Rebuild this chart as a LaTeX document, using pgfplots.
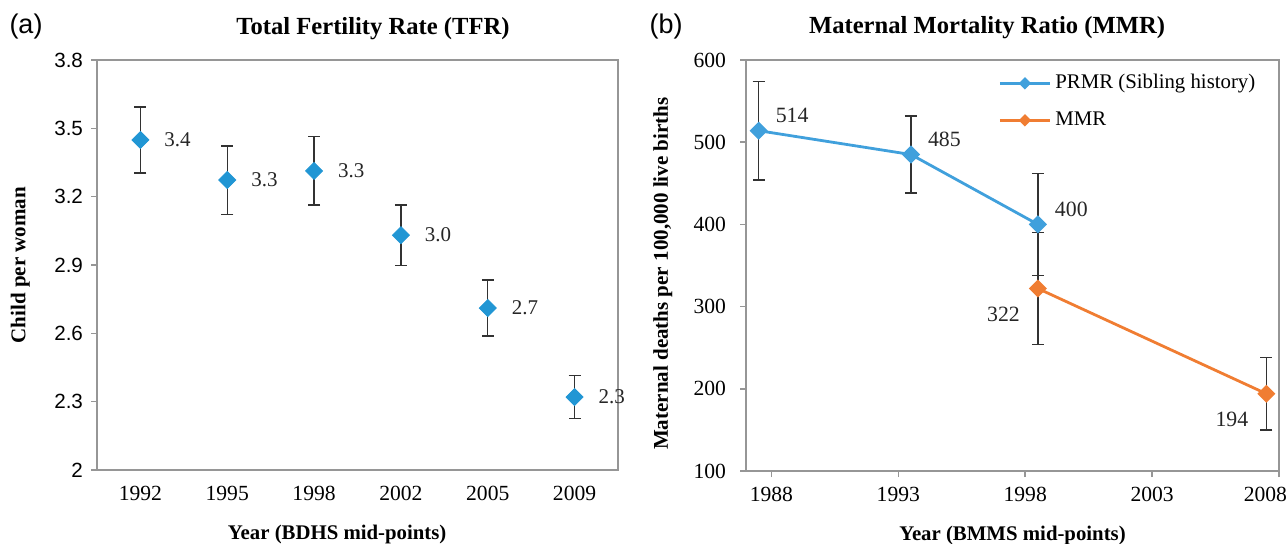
\documentclass[border=0pt]{standalone}
\usepackage{fontspec}
\setmainfont{Liberation Serif}
\newfontfamily\arial{Liberation Sans}
\usepackage{pgfplots}
\pgfplotsset{compat=1.18}

\definecolor{tfrblue}{RGB}{33,150,212}
\definecolor{prmrblue}{RGB}{64,160,220}
\definecolor{mmrorange}{RGB}{240,125,50}
\definecolor{framegray}{RGB}{150,150,150}
\definecolor{barcol}{RGB}{50,50,50}

\pgfplotsset{
  panel/.style={
    scale only axis,
    axis line style={framegray, line width=0.8pt},
    tick style={framegray, line width=0.8pt},
    tick align=outside,
    xtick pos=bottom, ytick pos=left,
    major tick length=3pt, minor tick length=3pt,
    every axis x label/.style={font=\bfseries\fontsize{10.4}{12}\selectfont},
    every axis y label/.style={font=\bfseries\fontsize{10.5}{12}\selectfont, rotate=90, anchor=center},
  },
  ebars/.style={
    error bars/.cd, y dir=both, y explicit,
    error bar style={barcol, line width=0.7pt, solid},
    error mark options={rotate=90, mark size=3pt, barcol, line width=0.7pt, solid},
  },
}

\begin{document}
\begin{tikzpicture}
\useasboundingbox (0pt,0pt) rectangle (644pt,-272pt);

% (a) TFR
\begin{axis}[panel,
  at={(48.5pt,-235pt)}, anchor=south west,
  width=260.5pt, height=205pt,
  xmin=-0.5, xmax=5.5, ymin=2, ymax=3.8,
  xtick={0,...,5},
  xticklabels={1992,1995,1998,2002,2005,2009},
  minor xtick={-0.5,0.5,...,5.5},
  xtick style={draw=none},
  minor x tick style={framegray, line width=0.8pt},
  ytick={2,2.3,2.6,2.9,3.2,3.5,3.8},
  yticklabels={2,2.3,2.6,2.9,3.2,3.5,3.8},
  xticklabel style={font=\fontsize{10.8}{12}\selectfont, yshift=-1.5pt},
  yticklabel style={font=\arial\fontsize{10.3}{12}\selectfont, xshift=-0.5pt},
  xlabel={Year (BDHS mid-points)},
  ylabel={Child per woman},
  xlabel style={at={(axis description cs:0.461,0)}, anchor=center, yshift=-32pt},
  ylabel style={at={(axis description cs:-0.147,0.5)}},
]
\addplot[only marks, mark=square*, mark size=3pt,
  mark options={rotate=45, fill=tfrblue, draw=tfrblue},
  point meta=explicit symbolic,
  nodes near coords={\pgfplotspointmeta},
  every node near coord/.append style={anchor=west, xshift=8.5pt,
    font=\fontsize{10.5}{12}\selectfont, text=black!85},
  ebars]
  table[x=x, y=y, y error=e, meta=l] {
x y e l
0 3.449 0.145 3.4
1 3.273 0.150 3.3
2 3.313 0.150 3.3
3 3.031 0.132 3.0
4 2.711 0.123 2.7
5 2.320 0.095 2.3
};
\end{axis}

% (b) MMR
\begin{axis}[panel,
  at={(373pt,-235.5pt)}, anchor=south west,
  width=266.5pt, height=205.5pt,
  xmin=1987, xmax=2008, ymin=100, ymax=600,
  xtick={1988,1993,1998,2003,2008},
  xticklabels={1988,1993,1998,2003,\makebox[0pt][r]{2008\kern-4pt}},
  ytick={100,200,300,400,500,600},
  yticklabels={100,200,300,400,500,600},
  xticklabel style={font=\fontsize{10.8}{12}\selectfont, yshift=-1.5pt},
  yticklabel style={font=\fontsize{10.8}{12}\selectfont, xshift=-3.5pt},
  xlabel={Year (BMMS mid-points)},
  ylabel={Maternal deaths per 100,000 live births},
  xlabel style={at={(axis description cs:0.5,0)}, anchor=center, yshift=-32pt},
  ylabel style={at={(axis description cs:-0.156,0.48)}},
  legend style={draw=none, fill=none, at={(0.975,0.985)}, anchor=north east,
    font=\fontsize{10.4}{12}\selectfont, row sep=6pt, legend cell align=left},
  legend image code/.code={
    \draw[mark repeat=2, mark phase=2, #1, mark size=1.5pt]
      plot coordinates {(0pt,0pt) (12.5pt,0pt) (25pt,0pt)};},
]
\addplot[prmrblue, line width=1.4pt, mark=square*, mark size=2.5pt,
  mark options={rotate=45, fill=prmrblue, draw=prmrblue, solid},
  point meta=explicit symbolic,
  nodes near coords={\pgfplotspointmeta},
  every node near coord/.append style={anchor=south west, xshift=4.5pt, yshift=0pt,
    font=\fontsize{10.9}{12}\selectfont, text=black!85},
  ebars]
  table[x=x, y=y, y error=e, meta=l] {
x y e l
1987.5 514 60 514
1993.5 485 47 485
1998.5 400 62 400
};
\addlegendentry{PRMR (Sibling history)}
\addplot[mmrorange, line width=1.4pt, mark=square*, mark size=2.5pt,
  mark options={rotate=45, fill=mmrorange, draw=mmrorange, solid},
  point meta=explicit symbolic,
  nodes near coords={\pgfplotspointmeta},
  every node near coord/.append style={anchor=north east, xshift=-5pt, yshift=-5pt,
    font=\fontsize{10.9}{12}\selectfont, text=black!85},
  ebars]
  table[x=x, y=y, y error=e, meta=l] {
x y e l
1998.5 322 68 322
2007.5 194 44 194
};
\addlegendentry{MMR}
\end{axis}

\node[font=\arial\fontsize{13.5}{15}\selectfont] at (13pt,-13.5pt) {(a)};
\node[font=\arial\fontsize{13.5}{15}\selectfont] at (333pt,-13.5pt) {(b)};
\node[font=\bfseries\fontsize{12.3}{14}\selectfont] at (186.5pt,-14.5pt) {Total Fertility Rate (TFR)};
\node[font=\bfseries\fontsize{12.3}{14}\selectfont] at (493.5pt,-14pt) {Maternal Mortality Ratio (MMR)};
\end{tikzpicture}
\end{document}
